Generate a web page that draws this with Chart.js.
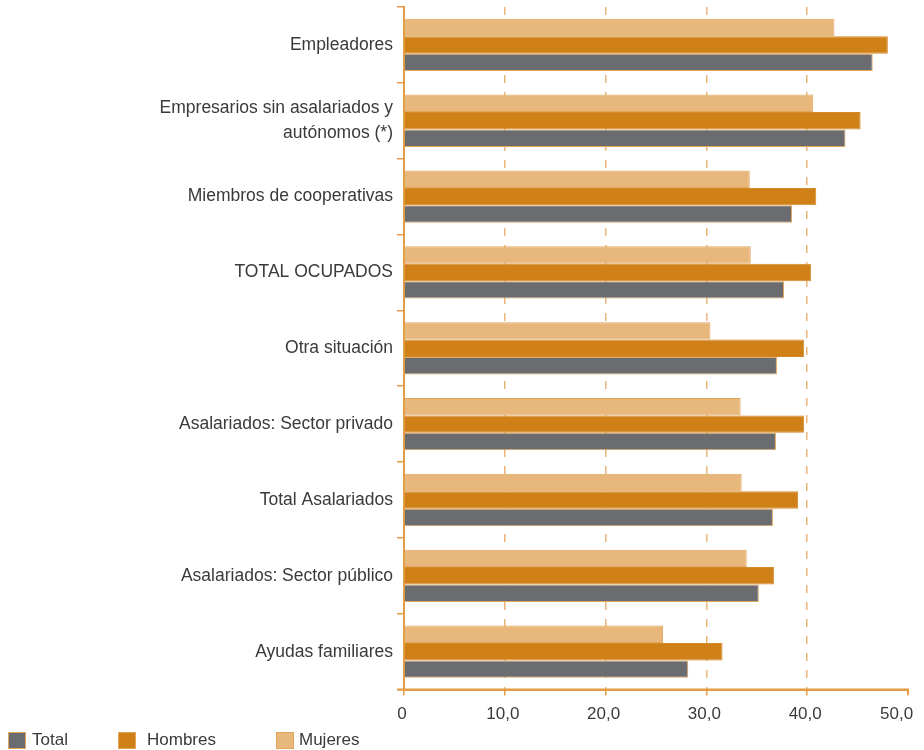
<!DOCTYPE html>
<html>
<head>
<meta charset="utf-8">
<script src="https://cdn.jsdelivr.net/npm/chart.js@4/dist/chart.umd.min.js"></script>
<style>
  html, body { margin: 0; padding: 0; background: #fff; }
  #wrap { position: relative; width: 924px; height: 750px; }
  #c { position: absolute; left: 0; top: 0; }
  .lg { position: absolute; font-family: "Liberation Sans", Arial, sans-serif; font-size: 17px; color: #3a3a3a; line-height: 18px; }
  .bx { position: absolute; width: 16px; height: 15px; box-sizing: content-box; border: 1px solid #e6a65a; }
</style>
</head>
<body>
<div id="wrap">
  <canvas id="c" width="924" height="750"></canvas>
  <div id="legend"></div>
</div>
<script>
const categories = [
  "Empleadores",
  ["Empresarios sin asalariados y", "autónomos (*)"],
  "Miembros de cooperativas",
  "TOTAL OCUPADOS",
  "Otra situación",
  "Asalariados: Sector privado",
  "Total Asalariados",
  "Asalariados: Sector público",
  "Ayudas familiares"
];
const mujeres = [42.7, 40.6, 34.3, 34.4, 30.4, 33.4, 33.5, 34.0, 25.7];
const hombres = [48.0, 45.3, 40.9, 40.4, 39.7, 39.7, 39.1, 36.7, 31.6];
const total   = [46.5, 43.8, 38.5, 37.7, 37.0, 36.9, 36.6, 35.2, 28.2];
const xTicks = [0, 10, 20, 30, 40, 50];
const xTickLabels = ["0", "10,0", "20,0", "30,0", "40,0", "50,0"];
const legendNames = ["Total", "Hombres", "Mujeres"];

const C_MUJ = "#e8b77c", C_HOM = "#cf8118", C_TOT = "#6b6c70", C_ORANGE = "#e49c45", C_GRID = "#eab67a";
const FONT = "'Liberation Sans', Arial, sans-serif";

const chart = new Chart(document.getElementById("c"), {
  type: "bar",
  data: {
    labels: categories,
    datasets: [
      { label: "Mujeres", data: mujeres, backgroundColor: C_MUJ, borderColor: "#e2a75e", borderWidth: 1 },
      { label: "Hombres", data: hombres, backgroundColor: C_HOM, borderColor: "#d4892a", borderWidth: 1 },
      { label: "Total", data: total, backgroundColor: C_TOT, borderColor: "#e2a75e", borderWidth: 1 }
    ]
  },
  options: {
    indexAxis: "y",
    responsive: false,
    animation: false,
    devicePixelRatio: 1,
    layout: { padding: { top: 7, right: 16, bottom: 16, left: 0 } },
    datasets: { bar: { categoryPercentage: 0.69, barPercentage: 1.0 } },
    plugins: { legend: { display: false }, tooltip: { enabled: false } },
    scales: {
      x: {
        min: 0, max: 50,
        afterBuildTicks: (s) => { s.ticks = xTicks.map(v => ({ value: v })); },
        afterFit: (s) => { s.paddingRight = 0; s.paddingLeft = 0; },
        ticks: {
          color: "#3a3a3a",
          font: { family: FONT, size: 17 },
          padding: 9,
          labelOffset: -2,
          maxRotation: 0,
          callback: (v, i) => i === xTickLabels.length - 1 ? xTickLabels[i] + "    " : xTickLabels[i]
        },
        grid: {
          drawOnChartArea: true,
          color: (ctx) => (ctx.tick && (ctx.tick.value === 0 || ctx.tick.value === 50)) ? "rgba(0,0,0,0)" : C_GRID,
          lineWidth: 1.5,
          tickLength: 6,
          tickColor: C_ORANGE,
          tickWidth: 1.5
        },
        border: { display: true, color: C_ORANGE, width: 2, dash: [8, 9] }
      },
      y: {
        afterFit: (s) => { s.width = 404; s.paddingTop = 0; s.paddingBottom = 0; },
        ticks: {
          color: "#3a3a3a",
          font: { family: FONT, size: 17.5, lineHeight: 1.45 },
          padding: 4
        },
        grid: {
          offset: true,
          drawOnChartArea: false,
          color: C_ORANGE,
          tickLength: 7,
          lineWidth: 1.5
        },
        border: { display: true, color: C_ORANGE, width: 2 }
      }
    }
  },
  plugins: [{
    id: "axisfix",
    afterDraw(ch) {
      const ctx = ch.ctx, a = ch.chartArea;
      ctx.save();
      ctx.strokeStyle = C_ORANGE;
      ctx.lineWidth = 2;
      ctx.setLineDash([]);
      ctx.beginPath();
      ctx.moveTo(a.left - 7, a.bottom);
      ctx.lineTo(a.right + 1, a.bottom);
      ctx.moveTo(a.right, a.bottom);
      ctx.lineTo(a.right, a.bottom + 5);
      ctx.stroke();
      ctx.restore();
    }
  }]
});

const lg = document.getElementById("legend");
const lgColors = { "Total": C_TOT, "Hombres": C_HOM, "Mujeres": C_MUJ };
const lgBox = [8, 118, 276], lgText = [32, 147, 299];
legendNames.forEach((n, i) => {
  const b = document.createElement("div");
  b.className = "bx";
  b.style.left = lgBox[i] + "px"; b.style.top = "732px";
  b.style.background = lgColors[n];
  lg.appendChild(b);
  const t = document.createElement("div");
  t.className = "lg";
  t.style.left = lgText[i] + "px"; t.style.top = "731px";
  t.textContent = n;
  lg.appendChild(t);
});
</script>
</body>
</html>
